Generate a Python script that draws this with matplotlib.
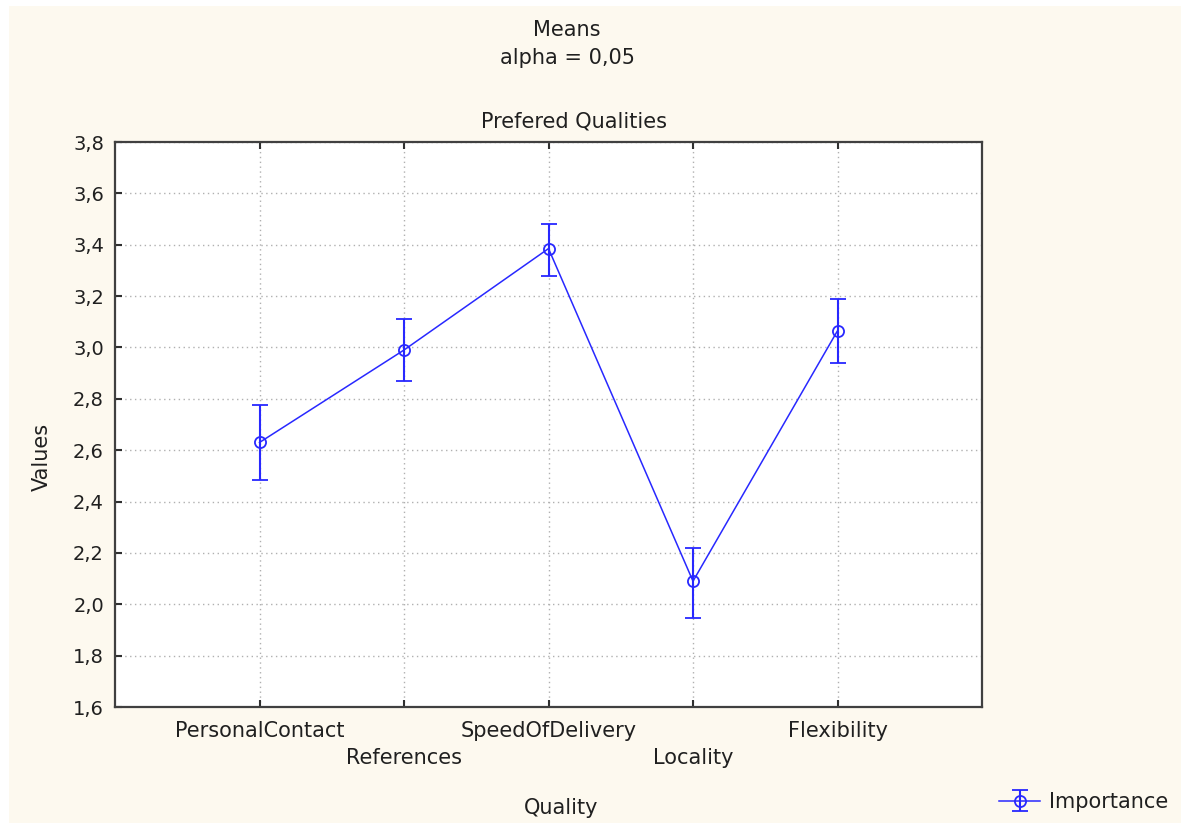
import matplotlib.pyplot as plt
from matplotlib.patches import Rectangle

# data
categories = ['PersonalContact', 'References', 'SpeedOfDelivery', 'Locality', 'Flexibility']
means = [2.63, 2.99, 3.385, 2.09, 3.065]
upper = [2.775, 3.11, 3.48, 2.22, 3.19]
lower = [2.485, 2.87, 3.28, 1.945, 2.94]
yticks = [1.6, 1.8, 2.0, 2.2, 2.4, 2.6, 2.8, 3.0, 3.2, 3.4, 3.6, 3.8]

W, H = 1181, 823
bg = '#fdf9ef'
blue = '#2828ff'
txt = '#202020'

fig = plt.figure(figsize=(W / 100, H / 100), dpi=100, facecolor='white')
# cream panel with a thin white strip on top and left, as in the original export
fig.patches.append(Rectangle((9 / W, 0), 1 - 9 / W, 1 - 6 / H, transform=fig.transFigure,
                             facecolor=bg, edgecolor='none', zorder=-10))

ax = fig.add_axes([115 / W, 1 - 707 / H, 867 / W, 565 / H])
ax.set_facecolor('white')

x = list(range(1, len(categories) + 1))
yerr = [[m - l for m, l in zip(means, lower)], [u - m for u, m in zip(upper, means)]]
ax.errorbar(x, means, yerr=yerr, color=blue, lw=1.1, elinewidth=1.5, capsize=6,
            capthick=1.5, marker='o', ms=8, mfc='none', mec=blue, mew=1.3,
            label='Importance', zorder=3)

ax.set_xlim(0, 6)
ax.set_ylim(1.6, 3.8)
ax.set_xticks(x)
ax.set_xticklabels([])
ax.set_yticks(yticks)
ax.set_yticklabels([f'{v:.1f}'.replace('.', ',') for v in yticks], fontsize=14, color=txt)
for i, c in enumerate(categories):
    ax.annotate(c, xy=(x[i], 0), xycoords=('data', 'axes fraction'),
                xytext=(0, -24 if i % 2 == 0 else -51), textcoords='offset pixels',
                ha='center', va='center', fontsize=15, color=txt)

ax.grid(True, color='#b0b0b0', linestyle=(0, (1, 2.5)), lw=1.0)
ax.tick_params(direction='in', length=5, width=1.5, color='#303030', top=True, right=False)
ax.tick_params(axis='y', pad=8)
for s in ax.spines.values():
    s.set_color('#404040')
    s.set_linewidth(1.6)

fig.text(567 / W, 1 - 30 / H, 'Means', ha='center', va='center', fontsize=15, color=txt)
fig.text(567 / W, 1 - 58 / H, 'alpha = 0,05', ha='center', va='center', fontsize=15, color=txt)
fig.text(574 / W, 1 - 122 / H, 'Prefered Qualities', ha='center', va='center', fontsize=15, color=txt)
fig.text(561 / W, 1 - 808 / H, 'Quality', ha='center', va='center', fontsize=15, color=txt)
fig.text(42 / W, 1 - 457 / H, 'Values', ha='center', va='center', rotation=90, fontsize=15, color=txt)

fig.legend(loc='center left', bbox_to_anchor=(980 / W, 1 - 802 / H), frameon=False,
           fontsize=15, handlelength=2.0, handletextpad=0.4, labelcolor=txt)

fig.savefig('out.png', dpi=100, facecolor='white')
